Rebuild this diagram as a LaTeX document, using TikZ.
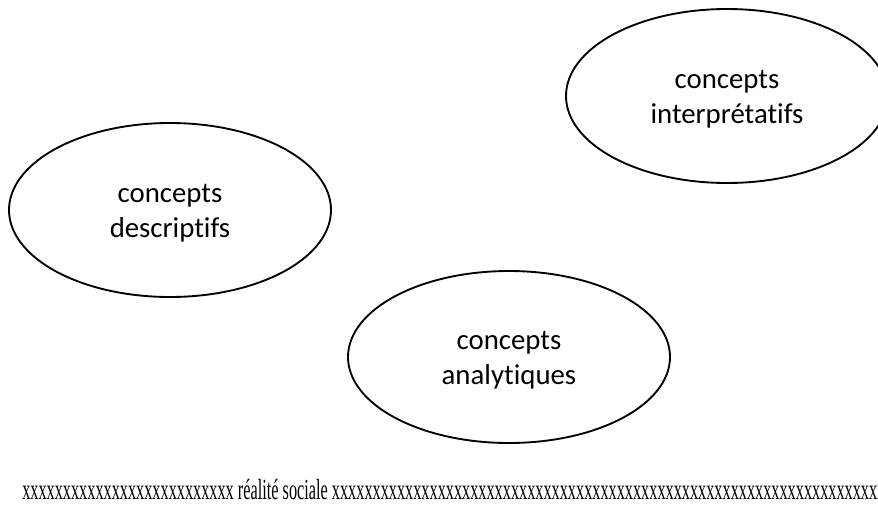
\documentclass[tikz,border=0pt]{standalone}
\usepackage{fontspec}
\setmainfont{Liberation Serif}
\newfontfamily\calib[Ligatures=NoCommon]{Carlito}
\usetikzlibrary{shapes.geometric}
\tikzset{
  concept/.style={ellipse, draw=black, line width=1.4pt, inner sep=0pt,
    minimum width=241.5pt, minimum height=130.5pt,
    font=\calib\fontsize{21.6pt}{26.25pt}\selectfont},
  realite/.style={anchor=base west, inner sep=0pt,
    font=\fontsize{21.8pt}{26pt}\selectfont}
}
\newcommand{\twolines}[2]{\begin{tabular}{@{}c@{}}\rule{0pt}{23.6pt}#1\\#2\end{tabular}}
\begin{document}
\begin{tikzpicture}[x=0.75pt,y=-0.75pt]
\useasboundingbox (0,0) rectangle (878,504);
\clip (0,0) rectangle (878,504);
\node[concept] (desc) at (170,210) {\twolines{concepts}{descriptifs}};
\node[concept] (interp) at (727,96) {\twolines{concepts}{interprétatifs}};
\node[concept, minimum height=129pt] (anal) at (509,357) {\twolines{concepts}{analytiques}};
\node[realite] (real) at (22,499) {\scalebox{0.56}[1]{xxxxxxxxxxxxxxxxxxxxxxxxxx réalité sociale xxxxxxxxxxxxxxxxxxxxxxxxxxxxxxxxxxxxxxxxxxxxxxxxxxxxxxxxxxxxxxxxxxxxxxxx}};
\end{tikzpicture}
\end{document}
